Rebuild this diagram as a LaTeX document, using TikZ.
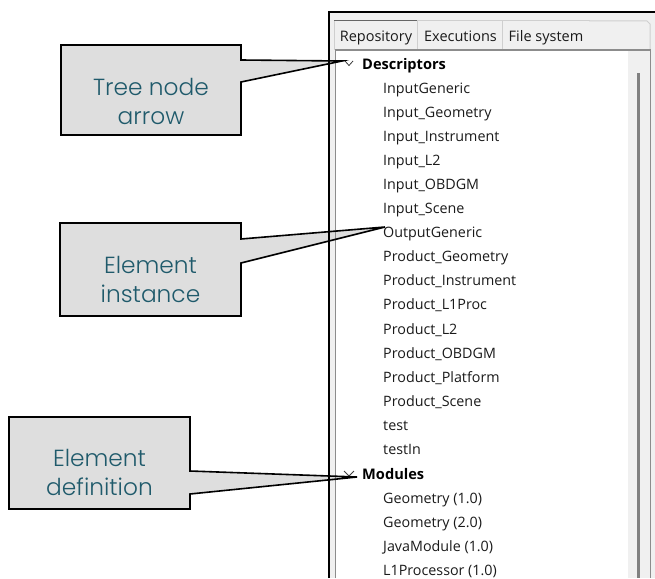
\documentclass[tikz,border=0pt]{standalone}
\usepackage{fontspec}
\setmainfont{Open Sans}
\newfontfamily\callfont{Poppins}[UprightFont=* Light]
\definecolor{panelbg}{HTML}{F0F0F0}
\definecolor{tabline}{HTML}{CFCFCF}
\definecolor{calloutfill}{HTML}{DEDEDE}
\definecolor{callouttext}{HTML}{1F5A6B}
\definecolor{treetext}{HTML}{1A1A1A}
\definecolor{frameline}{HTML}{8C8C8C}
\tikzset{
  rowitem/.style={anchor=base west,inner sep=0pt,font=\fontsize{14.3pt}{16pt}\selectfont,text=treetext},
  rowhead/.style={anchor=base west,inner sep=0pt,font=\fontsize{14.6pt}{16pt}\selectfont\bfseries,text=black},
  tablabel/.style={anchor=base,inner sep=0pt,font=\fontsize{14.5pt}{16pt}\selectfont,text=treetext},
  tabbox/.style={draw=tabline,line width=1pt,fill=panelbg},
  calloutfillonly/.style={fill=calloutfill},
  calloutline/.style={draw=black,line width=1.6pt,line join=miter},
  callouttxt/.style={align=center,inner sep=0pt,text=callouttext,font=\callfont\fontsize{23.3pt}{29pt}\selectfont},
  expander/.style={draw=black!75,line width=0.8pt},
}
\begin{document}
\begin{tikzpicture}[x=1pt,y=-1pt]
\useasboundingbox (0,0) rectangle (655,578);
\fill[white] (0,0) rectangle (655,578);
% panel
\fill[panelbg] (329,12) rectangle (655,578);
\draw[tabbox] (334,21) rectangle (417,50);
\draw[tabbox] (417,21) rectangle (502,50);
\draw[tabbox] (502,21) rectangle (589,50);
\draw[tabbox] (589,21) -- (647,21) -- (650,24) -- (650,50) -- (589,50);
\draw[line width=1.6pt,draw=black!60] (334,20.5) -- (417,20.5);
\fill[white] (336,51) rectangle (628,578);
\fill[black!50] (637,73) rectangle (640,578);
\draw[frameline,line width=1.3pt] (335.5,578) -- (335.5,50) -- (650.3,50) -- (650.3,578);
% tabs
\node[tablabel] (tabrepo) at (376,41.5) {Repository};
\node[tablabel] (tabexec) at (460.5,41.5) {Executions};
\node[tablabel] (tabfile) at (546,41.5) {File system};
% tree
\node[rowhead] (descriptors) at (362,69) {Descriptors};
\node[rowitem] (r1) at (383,93) {InputGeneric};
\node[rowitem] (r2) at (383,117) {Input\_Geometry};
\node[rowitem] (r3) at (383,141.2) {Input\_Instrument};
\node[rowitem] (r4) at (383,165.3) {Input\_L2};
\node[rowitem] (r5) at (383,189.4) {Input\_OBDGM};
\node[rowitem] (r6) at (383,213.5) {Input\_Scene};
\node[rowitem] (r7) at (383,237.6) {OutputGeneric};
\node[rowitem] (r8) at (383,261.7) {Product\_Geometry};
\node[rowitem] (r9) at (383,285.8) {Product\_Instrument};
\node[rowitem] (r10) at (383,309.9) {Product\_L1Proc};
\node[rowitem] (r11) at (383,334) {Product\_L2};
\node[rowitem] (r12) at (383,358.1) {Product\_OBDGM};
\node[rowitem] (r13) at (383,382.2) {Product\_Platform};
\node[rowitem] (r14) at (383,406.3) {Product\_Scene};
\node[rowitem] (r15) at (383,430.4) {test};
\node[rowitem] (r16) at (383,454.5) {testIn};
\node[rowhead] (modules) at (362,479) {Modules};
\node[rowitem] (r17) at (383,503) {Geometry (1.0)};
\node[rowitem] (r18) at (383,527.2) {Geometry (2.0)};
\node[rowitem] (r19) at (383,551.3) {JavaModule (1.0)};
\node[rowitem] (r20) at (383,575.4) {L1Processor (1.0)};
% expanders
\draw[expander] (345,61) -- (349,65.5) -- (353,61);
\draw[expander] (344,471) -- (349,476) -- (354,471);
% callouts
\coordinate (tipa) at (342,61);
\coordinate (tipb) at (385,227);
\coordinate (tipc) at (357,477);
\fill[calloutfillonly] (61,45) -- (241,45) -- (241,60) -- (tipa) -- (241,82) -- (241,135) -- (61,135) -- cycle;
\fill[calloutfillonly] (60,223) -- (241,223) -- (241,239) -- (tipb) -- (241,263) -- (241,316) -- (60,316) -- cycle;
\fill[calloutfillonly] (9,417) -- (190,417) -- (190,471) -- (tipc) -- (190,494) -- (190,509) -- (9,509) -- cycle;
% panel border, showing through the pointers
\draw[frameline,line width=1.3pt] (335.5,578) -- (335.5,50);
\draw[black,line width=1.6pt] (329,578) -- (329,12) -- (655,12);
\draw[calloutline] (61,45) -- (241,45) -- (241,60) -- (tipa) -- (241,82) -- (241,135) -- (61,135) -- cycle;
\draw[calloutline] (60,223) -- (241,223) -- (241,239) -- (tipb) -- (241,263) -- (241,316) -- (60,316) -- cycle;
\draw[calloutline] (9,417) -- (190,417) -- (190,471) -- (tipc) -- (190,494) -- (190,509) -- (9,509) -- cycle;
\node[callouttxt] (ca) at (151,101) {Tree node\\arrow};
\node[callouttxt] (cb) at (150.5,279) {Element\\instance};
\node[callouttxt] (cc) at (99.5,472) {Element\\definition};
\end{tikzpicture}
\end{document}
